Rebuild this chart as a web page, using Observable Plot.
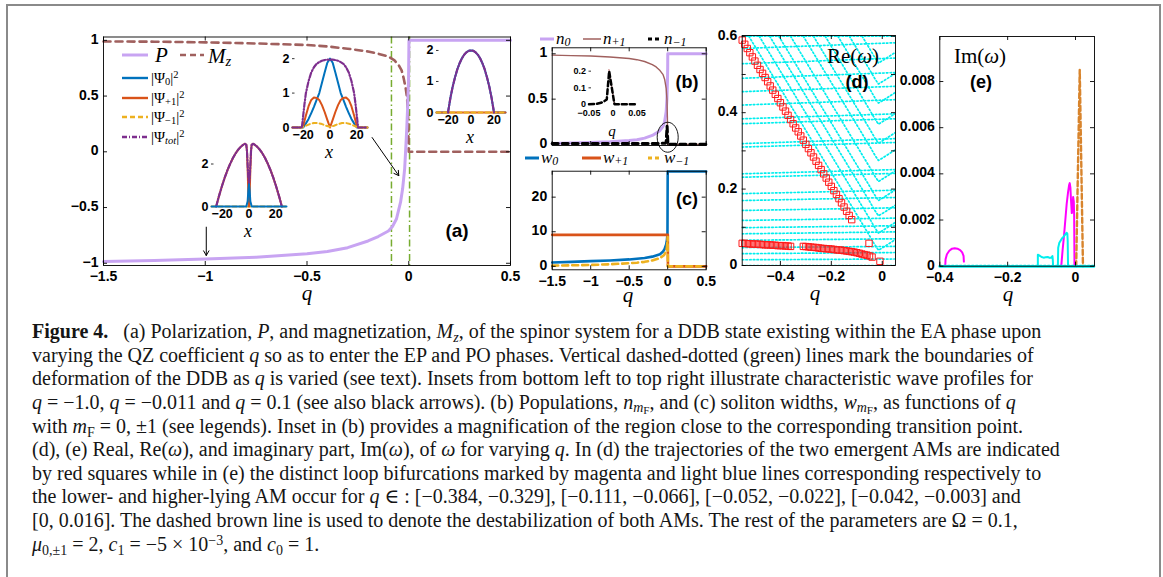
<!DOCTYPE html>
<html>
<head>
<meta charset="utf-8">
<script src="https://cdn.jsdelivr.net/npm/d3@7"></script>
<script src="https://cdn.jsdelivr.net/npm/@observablehq/plot@0.6"></script>
<style>
  body { margin: 0; background: #fff; }
  #root { position: relative; width: 1163px; height: 577px; overflow: hidden; background: #fff; }
  .box { position: absolute; left: 6px; top: 4px; width: 1155px; height: 700px; box-sizing: border-box;
         border: 2px solid #8a8a8a; border-bottom: none; }
  .cap { position: absolute; left: 32px; top: 320px; font-family: "Liberation Serif", "DejaVu Serif", serif;
         font-size: 20px; line-height: 23.65px; color: #151515; }
  .cap div { white-space: nowrap; height: 23.65px; }
  sub, sup { font-size: 0.7em; line-height: 0; }
  sub { vertical-align: -0.25em; }
  sup { vertical-align: 0.45em; }
  sub sub { font-size: 0.8em; vertical-align: -0.15em; }
</style>
</head>
<body>
<div id="root"><div class="box"></div></div>
<script>
// ======================= DATA =======================
// ---- panel (a): polarization P and magnetization Mz vs q
const qTicksA = [-1.5, -1, -0.5, 0, 0.5];
const yTicksA = [-1, -0.5, 0, 0.5, 1];
const polarizationP = [[-1.5,-0.985],[-1.25,-0.975],[-1,-0.962],[-0.75,-0.945],[-0.5,-0.915],[-0.4,-0.895],[-0.3,-0.86],[-0.2,-0.8],[-0.15,-0.76],[-0.1,-0.71],[-0.08,-0.67],[-0.06,-0.6],[-0.04,-0.45],[-0.03,-0.33],[-0.02,-0.15],[-0.015,0.02],[-0.01,0.2],[-0.005,0.42],[-0.001,0.65],[0.001,1],[0.5,1]];
const magnetizationMz = [[-1.5,0.99],[-1.25,0.988],[-1,0.982],[-0.75,0.972],[-0.5,0.958],[-0.4,0.945],[-0.3,0.925],[-0.2,0.9],[-0.15,0.88],[-0.1,0.855],[-0.07,0.82],[-0.05,0.78],[-0.035,0.73],[-0.025,0.66],[-0.015,0.57],[-0.008,0.48],[-0.003,0.3],[0,0],[0.5,0]];
const ddbBoundaries = [-0.085, 0.004];
const insetArrows = [{x1:-0.995, y1:-0.676, x2:-0.995, y2:-0.93}, {x1:-0.18, y1:0.128, x2:-0.049, y2:-0.214}];

// inset q = -1.0
const inset1Psi0 = [[-28,0],[-2,0],[-1,0.25],[-0.5,0.75],[0,1.05],[0.5,0.75],[1,0.25],[2,0],[28,0]];
const inset1PsiP1 = [[-24.5,0],[-23,0.36],[-22,0.58],[-20,1.0],[-18,1.38],[-16,1.72],[-14,2.02],[-12,2.28],[-10,2.5],[-8,2.68],[-6,2.82],[-4,2.92],[-3,2.95],[-2,2.9],[-1.5,2.6],[-1,1.7],[-0.5,0.6],[0,0],[0.5,0.6],[1,1.7],[1.5,2.6],[2,2.9],[3,2.95],[4,2.92],[6,2.82],[8,2.68],[10,2.5],[12,2.28],[14,2.02],[16,1.72],[18,1.38],[20,1.0],[22,0.58],[23,0.36],[24.5,0]];
const inset1PsiM1 = [[-28,0],[28,0]];
const inset1PsiTot = [[-24.5,0],[-23,0.36],[-22,0.58],[-20,1.0],[-18,1.38],[-16,1.72],[-14,2.02],[-12,2.28],[-10,2.5],[-8,2.68],[-6,2.82],[-4,2.92],[-3,2.95],[-2,2.9],[-1.5,2.6],[-1,1.95],[-0.5,1.35],[0,1.05],[0.5,1.35],[1,1.95],[1.5,2.6],[2,2.9],[3,2.95],[4,2.92],[6,2.82],[8,2.68],[10,2.5],[12,2.28],[14,2.02],[16,1.72],[18,1.38],[20,1.0],[22,0.58],[23,0.36],[24.5,0]];
// inset q = -0.011
const inset2Psi0 = [[-28,0],[-20,0],[-18,0.12],[-16,0.25],[-14,0.42],[-12,0.6],[-10,0.8],[-8,1.0],[-6,1.3],[-4,1.6],[-2,1.88],[0,2.0],[2,1.88],[4,1.6],[6,1.3],[8,1.0],[10,0.8],[12,0.6],[14,0.42],[16,0.25],[18,0.12],[20,0],[28,0]];
const inset2PsiP1 = [[-28,0],[-21,0],[-20,0.05],[-18,0.35],[-16,0.62],[-14,0.8],[-12,0.87],[-10,0.86],[-8,0.8],[-6,0.65],[-4,0.45],[-2,0.22],[0,0],[2,0.22],[4,0.45],[6,0.65],[8,0.8],[10,0.86],[12,0.87],[14,0.8],[16,0.62],[18,0.35],[20,0.05],[21,0],[28,0]];
const inset2PsiM1 = [[-28,0],[-21,0],[-18,0.05],[-15,0.1],[-12,0.13],[-9,0.13],[-6,0.1],[-3,0.05],[0,0.02],[3,0.05],[6,0.1],[9,0.13],[12,0.13],[15,0.1],[18,0.05],[21,0],[28,0]];
const inset2PsiTot = [[-28,0],[-21,0],[-20,0.35],[-19,0.7],[-18,1.0],[-16,1.35],[-14,1.6],[-12,1.75],[-10,1.85],[-8,1.9],[-6,1.94],[-4,1.96],[-2,1.97],[0,1.97],[2,1.97],[4,1.96],[6,1.94],[8,1.9],[10,1.85],[12,1.75],[14,1.6],[16,1.35],[18,1.0],[19,0.7],[20,0.35],[21,0],[28,0]];
// inset q = 0.1
const inset3Psi0 = [[-30,0],[-20,0],[-18,0.45],[-16,0.82],[-14,1.12],[-12,1.38],[-10,1.58],[-8,1.74],[-6,1.86],[-4,1.94],[-2,1.99],[0,2.0],[2,1.99],[4,1.94],[6,1.86],[8,1.74],[10,1.58],[12,1.38],[14,1.12],[16,0.82],[18,0.45],[20,0],[30,0]];
const inset3PsiP1 = [[-30,0],[30,0]];
const inset3PsiM1 = [[-30,0],[30,0]];
const inset3PsiTot = [[-20,0],[-18,0.45],[-16,0.82],[-14,1.12],[-12,1.38],[-10,1.58],[-8,1.74],[-6,1.86],[-4,1.94],[-2,1.99],[0,2.0],[2,1.99],[4,1.94],[6,1.86],[8,1.74],[10,1.58],[12,1.38],[14,1.12],[16,0.82],[18,0.45],[20,0]];

// ---- panel (b): populations
const yTicksB = [0, 0.5, 1];
const populationN0 = [[-1.5,0.012],[-1.25,0.016],[-1,0.021],[-0.75,0.029],[-0.5,0.043],[-0.4,0.053],[-0.3,0.07],[-0.2,0.1],[-0.15,0.125],[-0.1,0.155],[-0.06,0.2],[-0.04,0.25],[-0.02,0.36],[-0.01,0.5],[-0.003,0.7],[0,0.85],[0.001,1],[0.5,1]];
const populationNp1 = [[-1.5,0.985],[-1.25,0.98],[-1,0.975],[-0.75,0.965],[-0.5,0.948],[-0.4,0.935],[-0.3,0.915],[-0.2,0.88],[-0.15,0.855],[-0.1,0.815],[-0.06,0.77],[-0.04,0.72],[-0.02,0.62],[-0.01,0.5],[-0.004,0.3],[-0.001,0],[0.5,0]];
const populationNm1 = [[-1.5,0.012],[-0.5,0.012],[-0.1,0.012],[-0.03,0.014],[-0.02,0.03],[-0.008,0.2],[0.003,0.004],[0.5,0.004]];
const transitionMark = [{q: 0, n: 0.08}];
const insetBNm1 = [[-0.05,0.002],[-0.035,0.004],[-0.025,0.01],[-0.018,0.02],[-0.013,0.03],[-0.008,0.2],[0.003,0.002],[0.05,0.002]];
const insetBNp1 = [[-0.02,0.42],[0.003,0],[0.05,0]];
const insetBTicksX = [-0.05, 0, 0.05];
const insetBTicksY = [0, 0.1, 0.2];

// ---- panel (c): soliton widths
const yTicksC = [0, 10, 20];
const widthW0 = [[-1.5,1.1],[-1.25,1.3],[-1,1.5],[-0.75,1.7],[-0.5,2.0],[-0.4,2.2],[-0.3,2.4],[-0.2,2.8],[-0.1,3.5],[-0.06,4.3],[-0.04,5.0],[-0.02,6.3],[-0.01,7.6],[-0.003,9.3],[0,27.4],[0.5,27.4]];
const widthWp1 = [[-1.5,9.1],[0.002,9.1],[0.003,0],[0.5,0]];
const widthWm1 = [[-1.5,0.2],[-1.25,0.3],[-1,0.4],[-0.75,0.6],[-0.5,0.9],[-0.4,1.05],[-0.3,1.3],[-0.2,1.7],[-0.1,2.4],[-0.05,3.2],[-0.02,4.3],[-0.01,5.5],[-0.003,7.5],[0,8.5],[0.002,0],[0.5,0]];

// ---- panel (d): Re(omega)
const qTicksD = [-0.4, -0.2, 0];
const yTicksD = [0, 0.1, 0.2, 0.3, 0.4, 0.5, 0.6];
const yLabelsD = [0, 0.2, 0.4, 0.6];
const reFlatBranches = [
 [[-0.55,0],[0.052,0]],[[-0.55,0.015],[0.052,0.017]],[[-0.55,0.031],[0.052,0.034]],[[-0.55,0.047],[0.052,0.05]],
 [[-0.55,0.066],[0.052,0.07]],[[-0.55,0.083],[0.052,0.088]],[[-0.55,0.099],[0.052,0.104]],[[-0.55,0.118],[0.052,0.124]],
 [[-0.55,0.144],[0.052,0.151]],[[-0.55,0.17],[0.052,0.178]],[[-0.55,0.188],[0.052,0.197]],[[-0.55,0.231],[0.052,0.241]],
 [[-0.55,0.24],[0.052,0.251]],[[-0.55,0.31],[0.052,0.322]],[[-0.55,0.319],[0.052,0.332]],[[-0.55,0.371],[0.052,0.384]],
 [[-0.55,0.384],[0.052,0.397]],[[-0.55,0.42],[0.052,0.434]],[[-0.55,0.455],[0.052,0.469]],[[-0.55,0.49],[0.052,0.505]],
 [[-0.55,0.528],[0.052,0.543]],[[-0.55,0.568],[0.052,0.583]],[[-0.55,0.6],[0.052,0.6]]
];
const reDiagBranches = [
 [[-0.524,0.6],[-0.05,0.078],[-0.03,0.055],[-0.015,0.04],[0.005,0.048],[0.052,0.068]],
 [[-0.483,0.6],[-0.05,0.123],[-0.03,0.1],[-0.015,0.085],[0.005,0.093],[0.052,0.113]],
 [[-0.442,0.6],[-0.05,0.168],[-0.03,0.145],[-0.015,0.13],[0.005,0.138],[0.052,0.158]],
 [[-0.406,0.6],[-0.05,0.208],[-0.03,0.185],[-0.015,0.17],[0.005,0.178],[0.052,0.198]],
 [[-0.36,0.6],[-0.05,0.258],[-0.03,0.235],[-0.015,0.22],[0.005,0.228],[0.052,0.248]],
 [[-0.31,0.6],[-0.05,0.313],[-0.03,0.29],[-0.015,0.275],[0.005,0.283],[0.052,0.303]],
 [[-0.27,0.6],[-0.05,0.358],[-0.03,0.335],[-0.015,0.32],[0.005,0.328],[0.052,0.348]],
 [[-0.224,0.6],[-0.05,0.408],[-0.03,0.385],[-0.015,0.37],[0.005,0.378],[0.052,0.398]],
 [[-0.174,0.6],[-0.05,0.463],[-0.03,0.44],[-0.015,0.425],[0.005,0.433],[0.052,0.453]],
 [[-0.129,0.6],[-0.05,0.513],[-0.03,0.49],[-0.015,0.475],[0.005,0.483],[0.052,0.503]],
 [[-0.079,0.6],[-0.05,0.568],[-0.03,0.545],[-0.015,0.53],[0.005,0.538],[0.052,0.558]]
];
const amUpper = [[-0.55,0.59],[-0.54,0.579],[-0.53,0.568],[-0.52,0.557],[-0.51,0.546],[-0.5,0.535],[-0.49,0.524],[-0.48,0.513],[-0.47,0.503],[-0.46,0.492],[-0.45,0.481],[-0.44,0.47],[-0.43,0.459],[-0.42,0.448],[-0.41,0.437],[-0.4,0.426],[-0.39,0.415],[-0.38,0.404],[-0.37,0.393],[-0.36,0.382],[-0.35,0.371],[-0.34,0.36],[-0.33,0.35],[-0.32,0.339],[-0.31,0.328],[-0.3,0.317],[-0.29,0.306],[-0.28,0.295],[-0.27,0.284],[-0.26,0.273],[-0.25,0.262],[-0.24,0.251],[-0.23,0.24],[-0.22,0.229],[-0.21,0.218],[-0.2,0.207],[-0.19,0.196],[-0.18,0.186],[-0.17,0.175],[-0.16,0.164],[-0.15,0.153],[-0.14,0.142],[-0.13,0.131],[-0.12,0.12],[-0.052,0.058],[-0.009,0.011]];
const amLower = [[-0.55,0.058],[-0.54,0.058],[-0.53,0.057],[-0.52,0.057],[-0.51,0.056],[-0.5,0.056],[-0.49,0.056],[-0.48,0.055],[-0.47,0.055],[-0.46,0.054],[-0.45,0.054],[-0.44,0.054],[-0.43,0.053],[-0.42,0.053],[-0.41,0.052],[-0.4,0.052],[-0.39,0.052],[-0.38,0.051],[-0.37,0.051],[-0.36,0.05],
 [-0.31,0.05],[-0.3,0.0495],[-0.29,0.049],[-0.28,0.048],[-0.27,0.0475],[-0.26,0.047],[-0.25,0.046],[-0.24,0.045],[-0.23,0.0445],[-0.22,0.044],[-0.21,0.0435],[-0.2,0.043],[-0.19,0.042],[-0.18,0.041],[-0.17,0.0405],[-0.16,0.04],[-0.15,0.039],[-0.14,0.038],[-0.13,0.037],[-0.12,0.036],[-0.11,0.035],[-0.1,0.0335],[-0.09,0.032],[-0.08,0.03],[-0.07,0.0285],[-0.06,0.027],[-0.05,0.025],[-0.04,0.022]];

// ---- panel (e): Im(omega)
const qTicksE = [-0.4, -0.2, 0];
const yTicksE = [0, 0.002, 0.004, 0.006, 0.008];
const imBaseline = [[-0.4,0],[0.056,0]];
const imMagentaLower = [[-0.384,0],[-0.383,0.0003],[-0.379,0.00052],[-0.372,0.00067],[-0.364,0.00076],[-0.356,0.00078],[-0.348,0.00076],[-0.34,0.0007],[-0.334,0.0006],[-0.33,0.00045],[-0.329,0.0002]];
const imCyan1 = [[-0.111,0],[-0.111,0.0005],[-0.106,0.00046],[-0.1,0.0004],[-0.094,0.00037],[-0.088,0.00039],[-0.082,0.0004],[-0.076,0.00036],[-0.071,0.00038],[-0.068,0.00044],[-0.067,0.0003],[-0.066,0]];
const imCyan2 = [[-0.052,0],[-0.051,0.0008],[-0.048,0.001],[-0.044,0.0011],[-0.04,0.0012],[-0.035,0.00128],[-0.03,0.00138],[-0.026,0.00145],[-0.024,0.0014],[-0.023,0.0011],[-0.022,0]];
const imMagentaUpper = [[-0.042,0],[-0.038,0.0007],[-0.034,0.0013],[-0.03,0.002],[-0.026,0.0027],[-0.022,0.0032],[-0.019,0.0035],[-0.017,0.0036],[-0.015,0.0034],[-0.013,0.0028],[-0.011,0.0023],[-0.009,0.0024],[-0.007,0.003],[-0.005,0.0028],[-0.004,0.0022],[-0.003,0]];
const imDestabilization = [[0.002,0],[0.0125,0.0085],[0.022,0]];

// ======================= STYLE =======================
const SANS = "'Liberation Sans', Arial, Helvetica, sans-serif";
const SERIF = "'Liberation Serif', 'DejaVu Serif', serif";
const LAV = "#c8a4f2", BROWN = "#a0605e", GREEN = "#77ac30";
const BLUE = "#0072bd", ORANGE = "#d95319", YELLOW = "#edb120", PURPLE = "#7e2f8e";
const CYAN = "#00eeee", RED = "#ff1a1a", MAGENTA = "#ff00ff", DESTAB = "#d8842c";
const fmt = d => (d < 0 ? "\u2212" : "") + Math.abs(d);
const X = d => d[0], Y = d => d[1];
const root = document.getElementById("root");

function mount(svg, left, top, w, h) {
  const d = document.createElement("div");
  d.style.cssText = `position:absolute;left:${left}px;top:${top}px;width:${w}px;height:${h}px;`;
  d.appendChild(svg); root.appendChild(d);
}

function panel(o) {
  const iw = o.width - o.ml - o.mr, ih = o.height - o.mt - o.mb, t = 4;
  const k = {stroke: "black", strokeWidth: 0.9};
  const marks = [...o.marks, Plot.frame({stroke: "black", strokeWidth: 0.9})];
  marks.push(Plot.tickX(o.xTicks, {x: d => d, insetTop: ih - t, ...k}),
             Plot.tickX(o.xTicks, {x: d => d, insetBottom: ih - t, ...k}),
             Plot.tickY(o.yTicks, {y: d => d, insetRight: iw - t, ...k}),
             Plot.tickY(o.yTicks, {y: d => d, insetLeft: iw - t, ...k}));
  if (o.xLabels) marks.push(Plot.axisX(o.xLabels, {tickSize: 0, tickPadding: 6, tickFormat: fmt, label: null,
      fontSize: 14, fontWeight: "bold", fontFamily: SANS}));
  if (o.yLabels) marks.push(Plot.axisY(o.yLabels, {tickSize: 0, tickPadding: 5, tickFormat: fmt, label: null,
      fontSize: 14, fontWeight: "bold", fontFamily: SANS, dy: -1}));
  const svg = Plot.plot({width: o.width, height: o.height, marginLeft: o.ml, marginRight: o.mr, marginTop: o.mt, marginBottom: o.mb,
    x: {domain: o.xDomain, axis: null}, y: {domain: o.yDomain, axis: null},
    style: {background: "transparent", maxWidth: "none", overflow: "visible", fontFamily: SANS, color: "black"},
    marks});
  mount(svg, o.left, o.top, o.width, o.height);
}

function inset(o) {
  const iw = o.width - o.ml - o.mr;
  const marks = [
    Plot.axisY(o.yLabels, {tickSize: 0, tickPadding: 3, tickFormat: fmt, label: null, line: true,
      fontSize: o.fs, fontWeight: "bold", fontFamily: SANS}),
    Plot.axisX(o.xLabels, {tickSize: 0, tickPadding: o.xPad, tickFormat: fmt, label: null, line: true,
      fontSize: o.fs, fontWeight: "bold", fontFamily: SANS}),
    Plot.tickY(o.yLabels, {y: d => d, insetRight: iw - 2.5, stroke: "black", strokeWidth: 0.8}),
    ...o.marks];
  const svg = Plot.plot({width: o.width, height: o.height, marginLeft: o.ml, marginRight: o.mr, marginTop: o.mt, marginBottom: o.mb,
    x: {domain: o.xDomain, axis: null}, y: {domain: o.yDomain, axis: null},
    style: {background: "transparent", maxWidth: "none", overflow: "visible", fontFamily: SANS, color: "black"},
    marks});
  mount(svg, o.left, o.top, o.width, o.height);
}

function txt(html, x, y, css, anchor) {
  const d = document.createElement("div");
  const tx = anchor === "start" ? "0" : "-50%";
  d.style.cssText = `position:absolute;left:${x}px;top:${y}px;white-space:nowrap;line-height:1;transform:translate(${tx},-50%);${css}`;
  d.innerHTML = html; root.appendChild(d);
}
function sample(x1, x2, y, color, width, dash) {
  root.insertAdjacentHTML("beforeend",
    `<svg style="position:absolute;left:${x1}px;top:${y - 5}px" width="${x2 - x1}" height="10"><line x1="0" y1="5" x2="${x2 - x1}" y2="5" stroke="${color}" stroke-width="${width}" ${dash ? `stroke-dasharray="${dash}"` : ""}/></svg>`);
}

// ======================= PANEL (a) =======================
panel({left: 40, top: 20, width: 480, height: 285, ml: 63, mr: 10, mt: 16.5, mb: 40,
  xDomain: [-1.5, 0.5], yDomain: [-1.02, 1.03], xTicks: qTicksA, yTicks: yTicksA, xLabels: qTicksA, yLabels: yTicksA,
  marks: [
    Plot.ruleX(ddbBoundaries, {x: d => d, stroke: GREEN, strokeWidth: 1.5, strokeDasharray: "7,3,1.5,3"}),
    Plot.line(magnetizationMz, {x: X, y: Y, stroke: BROWN, strokeWidth: 2.6, strokeDasharray: "7,5"}),
    Plot.line(polarizationP, {x: X, y: Y, stroke: LAV, strokeWidth: 3}),
    Plot.arrow(insetArrows, {x1: "x1", y1: "y1", x2: "x2", y2: "y2", stroke: "black", strokeWidth: 1, headLength: 8})
  ]});

// insets of (a)
inset({left: 190, top: 125, width: 100, height: 110, ml: 21, mr: 4, mt: 13, mb: 29, fs: 12.5, xPad: 3,
  xDomain: [-28, 28], yDomain: [0, 3.2], xLabels: [-20, 0, 20], yLabels: [0, 2],
  marks: [
    Plot.line(inset1PsiM1, {x: X, y: Y, stroke: YELLOW, strokeWidth: 2, strokeDasharray: "4,3"}),
    Plot.line(inset1PsiP1, {x: X, y: Y, stroke: ORANGE, strokeWidth: 2}),
    Plot.line(inset1PsiTot, {x: X, y: Y, stroke: PURPLE, strokeWidth: 2.2, strokeDasharray: "5,2,1,2"}),
    Plot.line(inset1Psi0, {x: X, y: Y, stroke: BLUE, strokeWidth: 2})
  ]});
inset({left: 270, top: 40, width: 100, height: 110, ml: 22, mr: 3, mt: 13, mb: 23, fs: 12.5, xPad: 3,
  xDomain: [-28, 28], yDomain: [0, 2.15], xLabels: [-20, 0, 20], yLabels: [0, 1, 2],
  marks: [
    Plot.line(inset2Psi0, {x: X, y: Y, stroke: BLUE, strokeWidth: 2}),
    Plot.line(inset2PsiP1, {x: X, y: Y, stroke: ORANGE, strokeWidth: 2}),
    Plot.line(inset2PsiM1, {x: X, y: Y, stroke: YELLOW, strokeWidth: 2, strokeDasharray: "4,3"}),
    Plot.line(inset2PsiTot, {x: X, y: Y, stroke: PURPLE, strokeWidth: 2.2, strokeDasharray: "5,2,1,2"})
  ]});
inset({left: 415, top: 35, width: 95, height: 110, ml: 21, mr: 5, mt: 10, mb: 33, fs: 12.5, xPad: 3,
  xDomain: [-30, 30], yDomain: [0, 2.16], xLabels: [-20, 0, 20], yLabels: [0, 1, 2],
  marks: [
    Plot.line(inset3Psi0, {x: X, y: Y, stroke: BLUE, strokeWidth: 2}),
    Plot.line(inset3PsiP1, {x: X, y: Y, stroke: ORANGE, strokeWidth: 2}),
    Plot.line(inset3PsiM1, {x: X, y: Y, stroke: YELLOW, strokeWidth: 2, strokeDasharray: "4,3"}),
    Plot.line(inset3PsiTot, {x: X, y: Y, stroke: PURPLE, strokeWidth: 2.2, strokeDasharray: "5,2,1,2"})
  ]});

// ======================= PANEL (b) =======================
const ellipseSymbol = {draw(ctx) {
  const rx = 10.5, ry = 15, k = 0.5523;
  ctx.moveTo(rx, 0);
  ctx.bezierCurveTo(rx, k * ry, k * rx, ry, 0, ry);
  ctx.bezierCurveTo(-k * rx, ry, -rx, k * ry, -rx, 0);
  ctx.bezierCurveTo(-rx, -k * ry, -k * rx, -ry, 0, -ry);
  ctx.bezierCurveTo(k * rx, -ry, rx, -k * ry, rx, 0);
  ctx.closePath();
}};
panel({left: 520, top: 20, width: 200, height: 130, ml: 31.7, mr: 14.3, mt: 27.3, mb: 5,
  xDomain: [-1.5, 0.5], yDomain: [-0.011, 1.066], xTicks: qTicksA, yTicks: yTicksB, yLabels: yTicksB,
  marks: [
    Plot.line(populationN0, {x: X, y: Y, stroke: LAV, strokeWidth: 3}),
    Plot.line(populationNp1, {x: X, y: Y, stroke: BROWN, strokeWidth: 1.4}),
    Plot.line(populationNm1, {x: X, y: Y, stroke: "black", strokeWidth: 3, strokeDasharray: "6,4"}),
    Plot.dot(transitionMark, {x: "q", y: "n", symbol: ellipseSymbol, r: 1, stroke: "black", fill: "none", strokeWidth: 0.9})
  ]});
inset({left: 570, top: 60, width: 70, height: 60, ml: 18.5, mr: 3.5, mt: 9, mb: 16, fs: 9, xPad: 5,
  xDomain: [-0.05, 0.05], yDomain: [0, 0.21], xLabels: insetBTicksX, yLabels: insetBTicksY,
  marks: [
    Plot.line(insetBNp1, {x: X, y: Y, stroke: "#d9a0a0", strokeWidth: 1.4, clip: true}),
    Plot.line(insetBNm1, {x: X, y: Y, stroke: "black", strokeWidth: 2.5, strokeDasharray: "5,3"})
  ]});

// ======================= PANEL (c) =======================
panel({left: 520, top: 160, width: 200, height: 140, ml: 31.7, mr: 14.3, mt: 10.7, mb: 30.7,
  xDomain: [-1.5, 0.5], yDomain: [-1, 27.5], xTicks: qTicksA, yTicks: yTicksC, xLabels: qTicksA, yLabels: yTicksC,
  marks: [
    Plot.line(widthW0, {x: X, y: Y, stroke: BLUE, strokeWidth: 2.6}),
    Plot.line(widthWp1, {x: X, y: Y, stroke: ORANGE, strokeWidth: 2.6}),
    Plot.line(widthWm1, {x: X, y: Y, stroke: YELLOW, strokeWidth: 2.6, strokeDasharray: "6,4"})
  ]});

// ======================= PANEL (d) =======================
const reRows = [...reFlatBranches, ...reDiagBranches].flatMap((pts, i) => pts.map(([q, re]) => ({q, re, b: i})));
panel({left: 700, top: 20, width: 200, height: 285, ml: 41.7, mr: 5, mt: 15, mb: 40,
  xDomain: [-0.55, 0.052], yDomain: [0, 0.602], xTicks: qTicksD, yTicks: yTicksD, xLabels: qTicksD, yLabels: yLabelsD,
  marks: [
    Plot.line(reRows, {x: "q", y: "re", z: "b", stroke: CYAN, strokeWidth: 1.7, strokeDasharray: "1.5,2.2", clip: true}),
    Plot.dot(amUpper, {x: X, y: Y, symbol: "square", r: 3.6, stroke: RED, fill: "none", strokeWidth: 1}),
    Plot.dot(amLower, {x: X, y: Y, symbol: "square", r: 3.6, stroke: RED, fill: "none", strokeWidth: 1})
  ]});

// ======================= PANEL (e) =======================
panel({left: 880, top: 20, width: 230, height: 285, ml: 59.3, mr: 16, mt: 16, mb: 39.3,
  xDomain: [-0.4, 0.056], yDomain: [0, 0.00995], xTicks: qTicksE, yTicks: yTicksE, xLabels: qTicksE, yLabels: yTicksE,
  marks: [
    Plot.line(imMagentaLower, {x: X, y: Y, stroke: MAGENTA, strokeWidth: 2}),
    Plot.line(imCyan1, {x: X, y: Y, stroke: CYAN, strokeWidth: 2}),
    Plot.line(imMagentaUpper, {x: X, y: Y, stroke: MAGENTA, strokeWidth: 2}),
    Plot.line(imCyan2, {x: X, y: Y, stroke: CYAN, strokeWidth: 2}),
    Plot.line(imDestabilization, {x: X, y: Y, stroke: DESTAB, strokeWidth: 2.4, strokeDasharray: "5,3"}),
    Plot.line(imBaseline, {x: X, y: Y, stroke: CYAN, strokeWidth: 3, strokeDasharray: "2,2"})
  ]});

// ======================= TEXT / LEGENDS =======================
const M = `font-family:${SERIF};font-style:italic;`;
const R = `font-family:${SERIF};`;
const B = `font-family:${SANS};font-weight:bold;`;
const QL = M + "font-size:21px;line-height:0.7;";
// legend (a)
sample(122, 148, 55, LAV, 3); txt("P", 155, 55, M + "font-size:21px;", "start");
sample(180, 204, 55, BROWN, 2.6, "6,4"); txt("M<sub>z</sub>", 208, 56, M + "font-size:21px;", "start");
sample(122, 148, 78, BLUE, 2.4); txt("|Ψ<sub>0</sub>|<sup>2</sup>", 151, 78, R + "font-size:15px;", "start");
sample(122, 148, 98, ORANGE, 2.4); txt("|Ψ<sub>+1</sub>|<sup>2</sup>", 151, 98, R + "font-size:15px;", "start");
sample(122, 148, 117, YELLOW, 2.4, "5,3"); txt("|Ψ<sub>−1</sub>|<sup>2</sup>", 151, 117, R + "font-size:15px;", "start");
sample(122, 148, 137, PURPLE, 2.4, "5,2,1,2"); txt("|Ψ<sub><i>tot</i></sub>|<sup>2</sup>", 151, 137, R + "font-size:15px;", "start");
// legend (b)
sample(540, 554, 39, LAV, 3); txt("n<sub>0</sub>", 556, 38, M + "font-size:17px;", "start");
sample(583, 601, 39, BROWN, 1.5); txt("n<sub>+1</sub>", 603, 38, M + "font-size:17px;", "start");
sample(648, 662, 39, "black", 3, "4,3"); txt("n<sub>−1</sub>", 664, 38, M + "font-size:17px;", "start");
// legend (c)
sample(525, 539, 158, BLUE, 3); txt("w<sub>0</sub>", 541, 157, M + "font-size:17px;", "start");
sample(582, 601, 158, ORANGE, 3); txt("w<sub>+1</sub>", 603, 157, M + "font-size:17px;", "start");
sample(648, 662, 158, YELLOW, 3, "4,3"); txt("w<sub>−1</sub>", 664, 157, M + "font-size:17px;", "start");
// panel labels
txt("(a)", 457, 230, B + "font-size:19px;");
txt("(b)", 687, 82, B + "font-size:18px;");
txt("(c)", 687, 199, B + "font-size:18px;");
txt("(d)", 857, 82, B + "font-size:18px;");
txt("(e)", 981, 82, B + "font-size:18px;");
txt(`Re(<i>ω</i>)`, 853, 56, R + "font-size:21px;");
txt(`Im(<i>ω</i>)`, 980, 56, R + "font-size:21px;");
// axis titles
txt("q", 307, 293, QL);
txt("q", 628, 295, QL);
txt("q", 815, 293, QL);
txt("q", 1008, 294, QL);
txt("x", 248, 231, M + "font-size:18px;");
txt("x", 329, 152, M + "font-size:18px;");
txt("x", 470, 137, M + "font-size:18px;");
txt("q", 612, 131, M + "font-size:15px;line-height:0.8;");

// caption
const capLines = [
  `<b>Figure 4.</b>&nbsp;&nbsp; (a) Polarization, <i>P</i>, and magnetization, <i>M<sub>z</sub></i>, of the spinor system for a DDB state existing within the EA phase upon`,
  `varying the QZ coefficient <i>q</i> so as to enter the EP and PO phases. Vertical dashed-dotted (green) lines mark the boundaries of`,
  `deformation of the DDB as <i>q</i> is varied (see text). Insets from bottom left to top right illustrate characteristic wave profiles for`,
  `<i>q</i> = −1.0, <i>q</i> = −0.011 and <i>q</i> = 0.1 (see also black arrows). (b) Populations, <i>n</i><sub><i>m</i><sub>F</sub></sub>, and (c) soliton widths, <i>w</i><sub><i>m</i><sub>F</sub></sub>, as functions of <i>q</i>`,
  `with <i>m</i><sub>F</sub> = 0, ±1 (see legends). Inset in (b) provides a magnification of the region close to the corresponding transition point.`,
  `(d), (e) Real, Re(<i>ω</i>), and imaginary part, Im(<i>ω</i>), of <i>ω</i> for varying <i>q</i>. In (d) the trajectories of the two emergent AMs are indicated`,
  `by red squares while in (e) the distinct loop bifurcations marked by magenta and light blue lines corresponding respectively to`,
  `the lower- and higher-lying AM occur for <i>q</i> ∈ : [−0.384, −0.329], [−0.111, −0.066], [−0.052, −0.022], [−0.042, −0.003] and`,
  `[0, 0.016]. The dashed brown line is used to denote the destabilization of both AMs. The rest of the parameters are Ω = 0.1,`,
  `<i>μ</i><sub>0,±1</sub> = 2, <i>c</i><sub>1</sub> = −5 × 10<sup>−3</sup>, and <i>c</i><sub>0</sub> = 1.`
];
const cap = document.createElement("div");
cap.className = "cap";
cap.innerHTML = capLines.map(l => `<div>${l}</div>`).join("");
root.appendChild(cap);
</script>
</body>
</html>
